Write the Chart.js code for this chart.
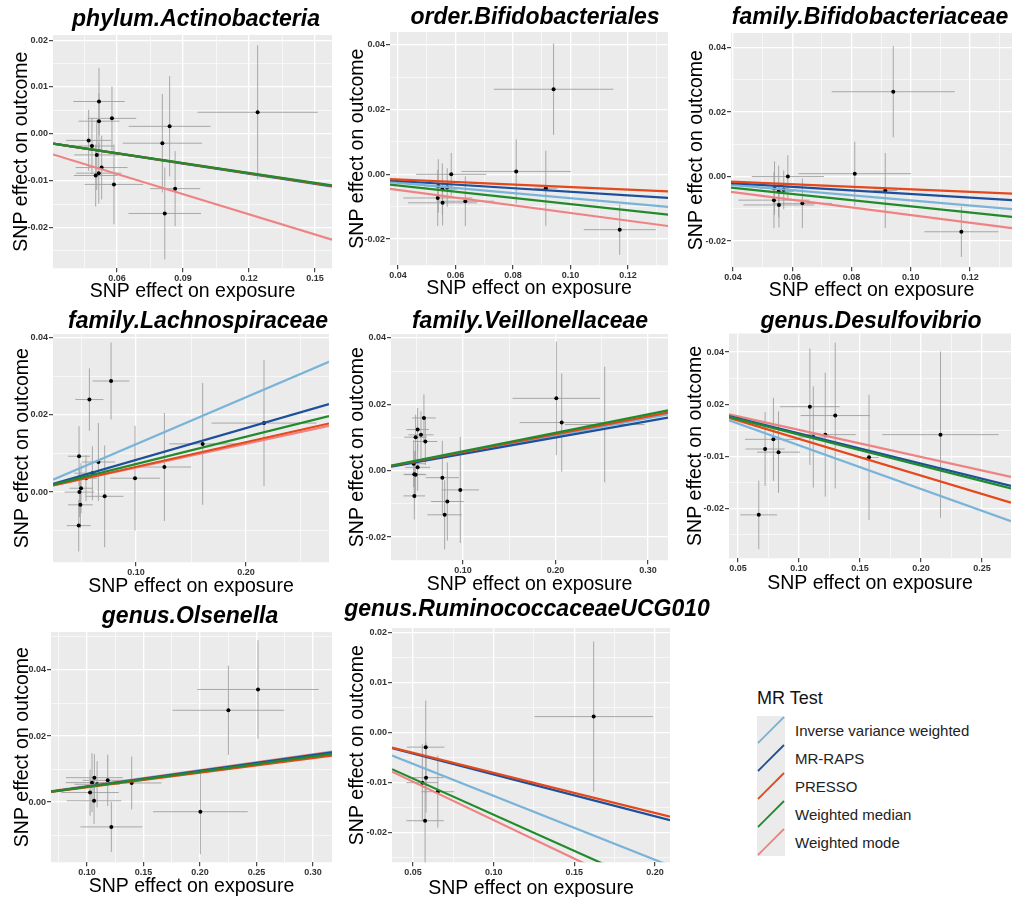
<!DOCTYPE html>
<html><head><meta charset="utf-8">
<script src="https://cdn.jsdelivr.net/npm/chart.js@4.4.1/dist/chart.umd.min.js"></script>
<style>
body{margin:0;background:#fff;width:1016px;height:897px;overflow:hidden;position:relative;font-family:"Liberation Sans",Arial,sans-serif}
canvas{position:absolute}
#legTitle{position:absolute;left:757px;top:687px;font-size:18px;color:#111;line-height:22px}
.lrow{position:absolute;left:757px;height:28px;display:flex;align-items:center}
.lkey{width:28px;height:28px;background:#ebebeb}
.llab{margin-left:10px;font-size:15px;color:#222;white-space:nowrap}
</style></head><body>
<div id="legTitle">MR Test</div>
<div id="legend"></div>
<script>
const methods = ['Inverse variance weighted','MR-RAPS','PRESSO','Weighted median','Weighted mode'];
const methodColors = ['#79b4d8','#1d4f9b','#e5481a','#218b2b','#ef8383'];
const methodOrder = [4,3,2,1,5];

// phylum.Actinobacteria
const actinoBx = [0.0518,0.0577,0.0518,0.0471,0.0486,0.0508,0.0530,0.0517,0.0503,0.0586,0.0806,0.0839,0.0864,0.0817,0.1239];
const actinoBy = [0.0069,0.0033,0.0027,-0.0014,-0.0026,-0.0045,-0.0072,-0.0084,-0.0089,-0.0108,-0.0020,0.0016,-0.0117,-0.0170,0.0046];
const actinoSeX = [0.0117,0.0110,0.0093,0.0102,0.0099,0.0102,0.0118,0.0103,0.0099,0.0133,0.0180,0.0186,0.0114,0.0165,0.0273];
const actinoSeY = [0.0072,0.0068,0.0060,0.0065,0.0060,0.0075,0.0068,0.0065,0.0066,0.0085,0.0105,0.0107,0.0080,0.0098,0.0143];
const actinoFitX = [0.0309,0.1577];
const actinoFits = [[-0.0021,-0.0113],[-0.0021,-0.0112],[-0.0021,-0.0111],[-0.0021,-0.0110],[-0.0044,-0.0226]];
const actinoXRange = [0.0309,0.1577], actinoYRange = [-0.0287,0.0211];
const actinoXTicks = [0.06,0.09,0.12,0.15], actinoXLabels = ['0.06','0.09','0.12','0.15'];
const actinoYTicks = [-0.02,-0.01,0,0.01,0.02], actinoYLabels = ['-0.02','-0.01','0.00','0.01','0.02'];

// order.Bifidobacteriales / family.Bifidobacteriaceae
const bifidoBx = [0.0941,0.0811,0.0914,0.0585,0.0540,0.0554,0.0571,0.0538,0.0555,0.0634,0.1171];
const bifidoBy = [0.0263,0.0009,-0.0043,0.0000,-0.0036,-0.0046,-0.0041,-0.0073,-0.0088,-0.0083,-0.0171];
const bifidoSeX = [0.0208,0.0190,0.0040,0.0122,0.0050,0.0050,0.0040,0.0120,0.0120,0.0100,0.0125];
const bifidoSeY = [0.0141,0.0099,0.0116,0.0066,0.0083,0.0080,0.0060,0.0087,0.0070,0.0077,0.0078];
const bifidoFitX = [0.0372,0.1342];
const bifidoFits = [[-0.0024,-0.0101],[-0.0019,-0.0073],[-0.0015,-0.0053],[-0.0032,-0.0125],[-0.0045,-0.0160]];
const orderXRange = [0.0372,0.1339], orderYRange = [-0.0281,0.0440];
const familyBXRange = [0.0393,0.1342], familyBYRange = [-0.0281,0.0445];
const bifidoXTicks = [0.04,0.06,0.08,0.10,0.12], bifidoXLabels = ['0.04','0.06','0.08','0.10','0.12'];
const bifidoYTicks = [-0.02,0,0.02,0.04], bifidoYLabels = ['-0.02','0.00','0.02','0.04'];

// family.Lachnospiraceae
const lachnoBx = [0.0773,0.0576,0.0482,0.0658,0.0603,0.0545,0.0500,0.0485,0.0494,0.0479,0.0715,0.0991,0.1258,0.1606,0.2164];
const lachnoBy = [0.0288,0.0240,0.0093,0.0078,0.0049,0.0036,0.0010,0.0000,-0.0033,-0.0087,-0.0011,0.0036,0.0065,0.0125,0.0179];
const lachnoSeX = [0.0167,0.0128,0.0100,0.0152,0.0165,0.0100,0.0105,0.0135,0.0112,0.0109,0.0170,0.0227,0.0243,0.0303,0.0477];
const lachnoSeY = [0.0100,0.0081,0.0078,0.0101,0.0070,0.0060,0.0065,0.0065,0.0060,0.0067,0.0132,0.0136,0.0140,0.0158,0.0163];
const lachnoFitX = [0.0245,0.2755];
const lachnoFits = [[0.0032,0.0338],[0.0021,0.0228],[0.0017,0.0178],[0.0019,0.0197],[0.0017,0.0172]];
const lachnoXRange = [0.0245,0.2755], lachnoYRange = [-0.0182,0.0410];
const lachnoXTicks = [0.10,0.20], lachnoXLabels = ['0.10','0.20'];
const lachnoYTicks = [0,0.02,0.04], lachnoYLabels = ['0.00','0.02','0.04'];

// family.Veillonellaceae
const veilloBx = [0.2009,0.2067,0.0578,0.0510,0.0546,0.0488,0.0593,0.0467,0.0510,0.0474,0.0488,0.0474,0.0777,0.0971,0.0831,0.0802,0.2532];
const veilloBy = [0.0218,0.0145,0.0159,0.0124,0.0108,0.0101,0.0088,0.0021,0.0010,-0.0011,-0.0012,-0.0076,-0.0021,-0.0058,-0.0093,-0.0133,0.0139];
const veilloSeX = [0.0473,0.0455,0.0128,0.0121,0.0135,0.0122,0.0130,0.0126,0.0135,0.0117,0.0117,0.0117,0.0180,0.0202,0.0177,0.0187,0.0430];
const veilloSeY = [0.0171,0.0148,0.0071,0.0065,0.0071,0.0068,0.0071,0.0071,0.0071,0.0071,0.0071,0.0071,0.0111,0.0160,0.0118,0.0104,0.0174];
const veilloFitX = [0.0222,0.3216];
const veilloFits = [[0.0013,0.0170],[0.0012,0.0160],[0.0014,0.0175],[0.0015,0.0182],[0.0014,0.0177]];
const veilloXRange = [0.0222,0.3216], veilloYRange = [-0.0270,0.0412];
const veilloXTicks = [0.10,0.20,0.30], veilloXLabels = ['0.10','0.20','0.30'];
const veilloYTicks = [-0.02,0,0.02,0.04], veilloYLabels = ['-0.02','0.00','0.02','0.04'];

// genus.Desulfovibrio
const desulfoBx = [0.1089,0.1297,0.1215,0.1117,0.0790,0.0722,0.0832,0.0670,0.1574,0.2160];
const desulfoBy = [0.0191,0.0157,0.0084,0.0075,0.0066,0.0029,0.0017,-0.0223,-0.0003,0.0084];
const desulfoSeX = [0.0244,0.0284,0.0250,0.0120,0.0233,0.0160,0.0176,0.0150,0.0080,0.0477];
const desulfoSeY = [0.0223,0.0279,0.0237,0.0194,0.0159,0.0141,0.0156,0.0131,0.0240,0.0318];
const desulfoFitX = [0.0426,0.2738];
const desulfoFits = [[0.0139,-0.0247],[0.0155,-0.0112],[0.0148,-0.0176],[0.0152,-0.0122],[0.0162,-0.0078]];
const desulfoXRange = [0.0426,0.2738], desulfoYRange = [-0.0389,0.0471];
const desulfoXTicks = [0.05,0.10,0.15,0.20,0.25], desulfoXLabels = ['0.05','0.10','0.15','0.20','0.25'];
const desulfoYTicks = [-0.02,0,0.02,0.04], desulfoYLabels = ['-0.02','-0.01','0.02','0.04'];

// genus.Olsenella
const olsenBx = [0.2513,0.2251,0.2003,0.1395,0.1183,0.1065,0.1044,0.1089,0.1027,0.1062,0.1215];
const olsenBy = [0.0341,0.0278,-0.0029,0.0058,0.0066,0.0074,0.0059,0.0054,0.0029,0.0004,-0.0075];
const olsenSeX = [0.0537,0.0494,0.0419,0.0264,0.0221,0.0251,0.0232,0.0200,0.0254,0.0242,0.0273];
const olsenSeY = [0.0149,0.0135,0.0129,0.0080,0.0078,0.0071,0.0089,0.0070,0.0070,0.0070,0.0076];
const olsenFitX = [0.0681,0.3168];
const olsenFits = [[0.0032,0.0149],[0.0032,0.0151],[0.0031,0.0141],[0.0032,0.0146],[0.0033,0.0153]];
const olsenXRange = [0.0681,0.3168], olsenYRange = [-0.0182,0.0515];
const olsenXTicks = [0.10,0.15,0.20,0.25,0.30], olsenXLabels = ['0.10','0.15','0.20','0.25','0.30'];
const olsenYTicks = [0,0.02,0.04], olsenYLabels = ['0.00','0.02','0.04'];

// genus.RuminococcaceaeUCG010
const ruminoBx = [0.1620,0.0579,0.0581,0.0558,0.0654,0.0575];
const ruminoBy = [0.0032,-0.0029,-0.0090,-0.0100,-0.0118,-0.0176];
const ruminoSeX = [0.0367,0.0116,0.0110,0.0099,0.0101,0.0116];
const ruminoSeY = [0.0150,0.0093,0.0070,0.0077,0.0072,0.0085];
const ruminoFitX = [0.0370,0.2093];
const ruminoFits = [[-0.0046,-0.0266],[-0.0031,-0.0175],[-0.0030,-0.0168],[-0.0073,-0.0322],[-0.0078,-0.0343]];
const ruminoXRange = [0.0370,0.2093], ruminoYRange = [-0.0259,0.0209];
const ruminoXTicks = [0.05,0.10,0.15,0.20], ruminoXLabels = ['0.05','0.10','0.15','0.20'];
const ruminoYTicks = [-0.02,-0.01,0,0.01,0.02], ruminoYLabels = ['-0.02','-0.01','0.00','0.01','0.02'];

const panels = [
  {title:'phylum.Actinobacteria', bx:actinoBx, by:actinoBy, sx:actinoSeX, sy:actinoSeY, fx:actinoFitX, fits:actinoFits, xr:actinoXRange, yr:actinoYRange, xt:actinoXTicks, xl:actinoXLabels, yt:actinoYTicks, yl:actinoYLabels,
   box:{L:53,T:35,R:332,B:268,tX:196,tY:20,yT:22,xT:291}},
  {title:'order.Bifidobacteriales', bx:bifidoBx, by:bifidoBy, sx:bifidoSeX, sy:bifidoSeY, fx:bifidoFitX, fits:bifidoFits, xr:orderXRange, yr:orderYRange, xt:bifidoXTicks, xl:bifidoXLabels, yt:bifidoYTicks, yl:bifidoYLabels,
   box:{L:390,T:32,R:668,B:265,tX:535,tY:18,yT:358,xT:288}},
  {title:'family.Bifidobacteriaceae', bx:bifidoBx, by:bifidoBy, sx:bifidoSeX, sy:bifidoSeY, fx:bifidoFitX, fits:bifidoFits, xr:familyBXRange, yr:familyBYRange, xt:bifidoXTicks, xl:bifidoXLabels, yt:bifidoYTicks, yl:bifidoYLabels,
   box:{L:731,T:33,R:1012,B:267,tX:870,tY:18,yT:697,xT:290}},
  {title:'family.Lachnospiraceae', bx:lachnoBx, by:lachnoBy, sx:lachnoSeX, sy:lachnoSeY, fx:lachnoFitX, fits:lachnoFits, xr:lachnoXRange, yr:lachnoYRange, xt:lachnoXTicks, xl:lachnoXLabels, yt:lachnoYTicks, yl:lachnoYLabels,
   box:{L:53,T:334,R:329,B:562,tX:198,tY:322,yT:23,xT:586}},
  {title:'family.Veillonellaceae', bx:veilloBx, by:veilloBy, sx:veilloSeX, sy:veilloSeY, fx:veilloFitX, fits:veilloFits, xr:veilloXRange, yr:veilloYRange, xt:veilloXTicks, xl:veilloXLabels, yt:veilloYTicks, yl:veilloYLabels,
   box:{L:391,T:334,R:668,B:560,tX:530,tY:322,yT:358,xT:584}},
  {title:'genus.Desulfovibrio', bx:desulfoBx, by:desulfoBy, sx:desulfoSeX, sy:desulfoSeY, fx:desulfoFitX, fits:desulfoFits, xr:desulfoXRange, yr:desulfoYRange, xt:desulfoXTicks, xl:desulfoXLabels, yt:desulfoYTicks, yl:desulfoYLabels,
   box:{L:729,T:333,R:1011,B:558,tX:871,tY:322,yT:696,xT:583}},
  {title:'genus.Olsenella', bx:olsenBx, by:olsenBy, sx:olsenSeX, sy:olsenSeY, fx:olsenFitX, fits:olsenFits, xr:olsenXRange, yr:olsenYRange, xt:olsenXTicks, xl:olsenXLabels, yt:olsenYTicks, yl:olsenYLabels,
   box:{L:51,T:632,R:332,B:862,tX:190,tY:617,yT:23,xT:886}},
  {title:'genus.RuminococcaceaeUCG010', bx:ruminoBx, by:ruminoBy, sx:ruminoSeX, sy:ruminoSeY, fx:ruminoFitX, fits:ruminoFits, xr:ruminoXRange, yr:ruminoYRange, xt:ruminoXTicks, xl:ruminoXLabels, yt:ruminoYTicks, yl:ruminoYLabels,
   box:{L:392,T:628,R:670,B:862,tX:527,tY:610,yT:358,xT:888}}
];

const MAIN_FONT = '"Liberation Sans",Arial,sans-serif';
const AXIS_SIZE = 19.5, TITLE_SIZE = 23;

function makeTicks(vals, labs, min, max) {
  const step = vals.length > 1 ? vals[1]-vals[0] : 0.01;
  const out = vals.map((v,i)=>({value:v, lab:labs[i], minor:false}));
  const mids = [vals[0]-step/2].concat(vals.map(v=>v+step/2));
  mids.forEach(v=>out.push({value:v, lab:'', minor:true}));
  return out.filter(t=>t.value>=min-1e-9 && t.value<=max+1e-9).sort((a,b)=>a.value-b.value);
}

function axis(min, max, ticks, title, isX, forced, tpad) {
  return {
    type:'linear', min:min, max:max,
    afterBuildTicks: s => { s.ticks = ticks.map(t=>Object.assign({}, t)); },
    afterFit: s => { if (isX) s.height = forced; else s.width = forced; },
    ticks: {
      autoSkip:false, maxRotation:0, minRotation:0, padding:1,
      callback: (v,i,arr) => (arr[i] && arr[i].lab) || '',
      font:{family:MAIN_FONT, size:9, weight:'bold'}, color:'#333'
    },
    grid: {
      color:'#ffffff',
      lineWidth: c => (c.tick && c.tick.minor) ? 0.6 : 1.3,
      tickColor: c => (c.tick && c.tick.minor) ? 'rgba(0,0,0,0)' : '#333',
      tickLength:4, tickWidth:1.1, drawTicks:true
    },
    border:{display:false},
    title:{display:true, text:title, color:'#000',
      font:{family:MAIN_FONT, size:AXIS_SIZE, lineHeight:1},
      padding: isX ? {top:0,bottom:tpad} : {top:tpad,bottom:0}}
  };
}

const bgPlugin = {
  id:'plotBg',
  beforeDraw(chart){
    const a = chart.chartArea, c = chart.ctx;
    c.save(); c.fillStyle = '#ebebeb'; c.fillRect(a.left, a.top, a.right-a.left, a.bottom-a.top); c.restore();
  }
};

const meas = document.createElement('canvas').getContext('2d');
meas.font = 'italic bold ' + TITLE_SIZE + 'px ' + MAIN_FONT;

panels.forEach((p) => {
  const b = p.box;
  const tw = meas.measureText(p.title).width;
  const bl = Math.floor(Math.min(b.yT - AXIS_SIZE/2 - 1, b.tX - tw/2 - 4, 2*b.tX - b.R));
  const br = 2*b.tX - bl;
  const W = br - bl;
  const wr = br - b.R;
  const wy = b.L - bl;
  const yTitlePad = b.yT - bl - AXIS_SIZE/2;
  const ct = Math.round(b.tY - TITLE_SIZE/2 - 1);
  const tPadTop = Math.max(0, b.tY - ct - TITLE_SIZE/2);
  const tPadBottom = Math.max(0, b.T - ct - tPadTop - TITLE_SIZE);
  const hx = b.xT - b.B + AXIS_SIZE/2 + 2;
  const ch = Math.ceil(b.B - ct + hx);
  const cv = document.createElement('canvas');
  cv.width = W; cv.height = ch;
  cv.style.left = bl + 'px'; cv.style.top = ct + 'px';
  cv.style.width = W + 'px'; cv.style.height = ch + 'px';
  document.body.appendChild(cv);

  const errH = [], errV = [], pts = [];
  p.bx.forEach((x,i) => {
    const y = p.by[i];
    errH.push({x:x-p.sx[i], y:y}, {x:x+p.sx[i], y:y}, {x:x, y:null});
    errV.push({x:x, y:y-p.sy[i]}, {x:x, y:y+p.sy[i]}, {x:x, y:null});
    pts.push({x:x, y:y});
  });
  const datasets = [
    {type:'line', data:errH, borderColor:'rgba(160,160,160,0.9)', borderWidth:1, pointRadius:0, spanGaps:false, order:8, fill:false},
    {type:'line', data:errV, borderColor:'rgba(160,160,160,0.9)', borderWidth:1, pointRadius:0, spanGaps:false, order:7, fill:false},
    {type:'scatter', data:pts, backgroundColor:'#000', borderColor:'#000', pointRadius:2, borderWidth:0, order:6}
  ];
  p.fits.forEach((f, m) => {
    datasets.push({type:'line', data:[{x:p.fx[0], y:f[0]}, {x:p.fx[1], y:f[1]}],
      borderColor:methodColors[m], borderWidth:2.2, pointRadius:0, fill:false, order:methodOrder[m]});
  });

  new Chart(cv, {
    type:'scatter',
    data:{datasets:datasets},
    plugins:[bgPlugin],
    options:{
      responsive:false, animation:false, devicePixelRatio:1,
      layout:{padding:0},
      plugins:{
        legend:{display:false}, tooltip:{enabled:false},
        title:{display:true, text:p.title, fullSize:true, color:'#000',
          font:{family:MAIN_FONT, size:TITLE_SIZE, weight:'bold', style:'italic', lineHeight:1},
          padding:{top:tPadTop, bottom:tPadBottom}}
      },
      scales:{
        x: axis(p.xr[0], p.xr[1], makeTicks(p.xt, p.xl, p.xr[0], p.xr[1]), 'SNP effect on exposure', true, hx, 2),
        y: axis(p.yr[0], p.yr[1], makeTicks(p.yt, p.yl, p.yr[0], p.yr[1]), 'SNP effect on outcome', false, wy, yTitlePad),
        yR: {position:'right', display:true, min:0, max:1,
          afterFit: s => { s.width = wr; },
          ticks:{display:false}, grid:{display:false, drawTicks:false}, border:{display:false}, title:{display:false}}
      }
    }
  });
});

// legend
const leg = document.getElementById('legend');
methods.forEach((name, m) => {
  const row = document.createElement('div');
  row.className = 'lrow';
  row.style.top = (716 + m*28) + 'px';
  row.innerHTML = '<div class="lkey"><svg width="28" height="28"><line x1="1" y1="27" x2="27" y2="1" stroke="' + methodColors[m] + '" stroke-width="1.8"/></svg></div><div class="llab">' + name + '</div>';
  leg.appendChild(row);
});
</script>
</body></html>
